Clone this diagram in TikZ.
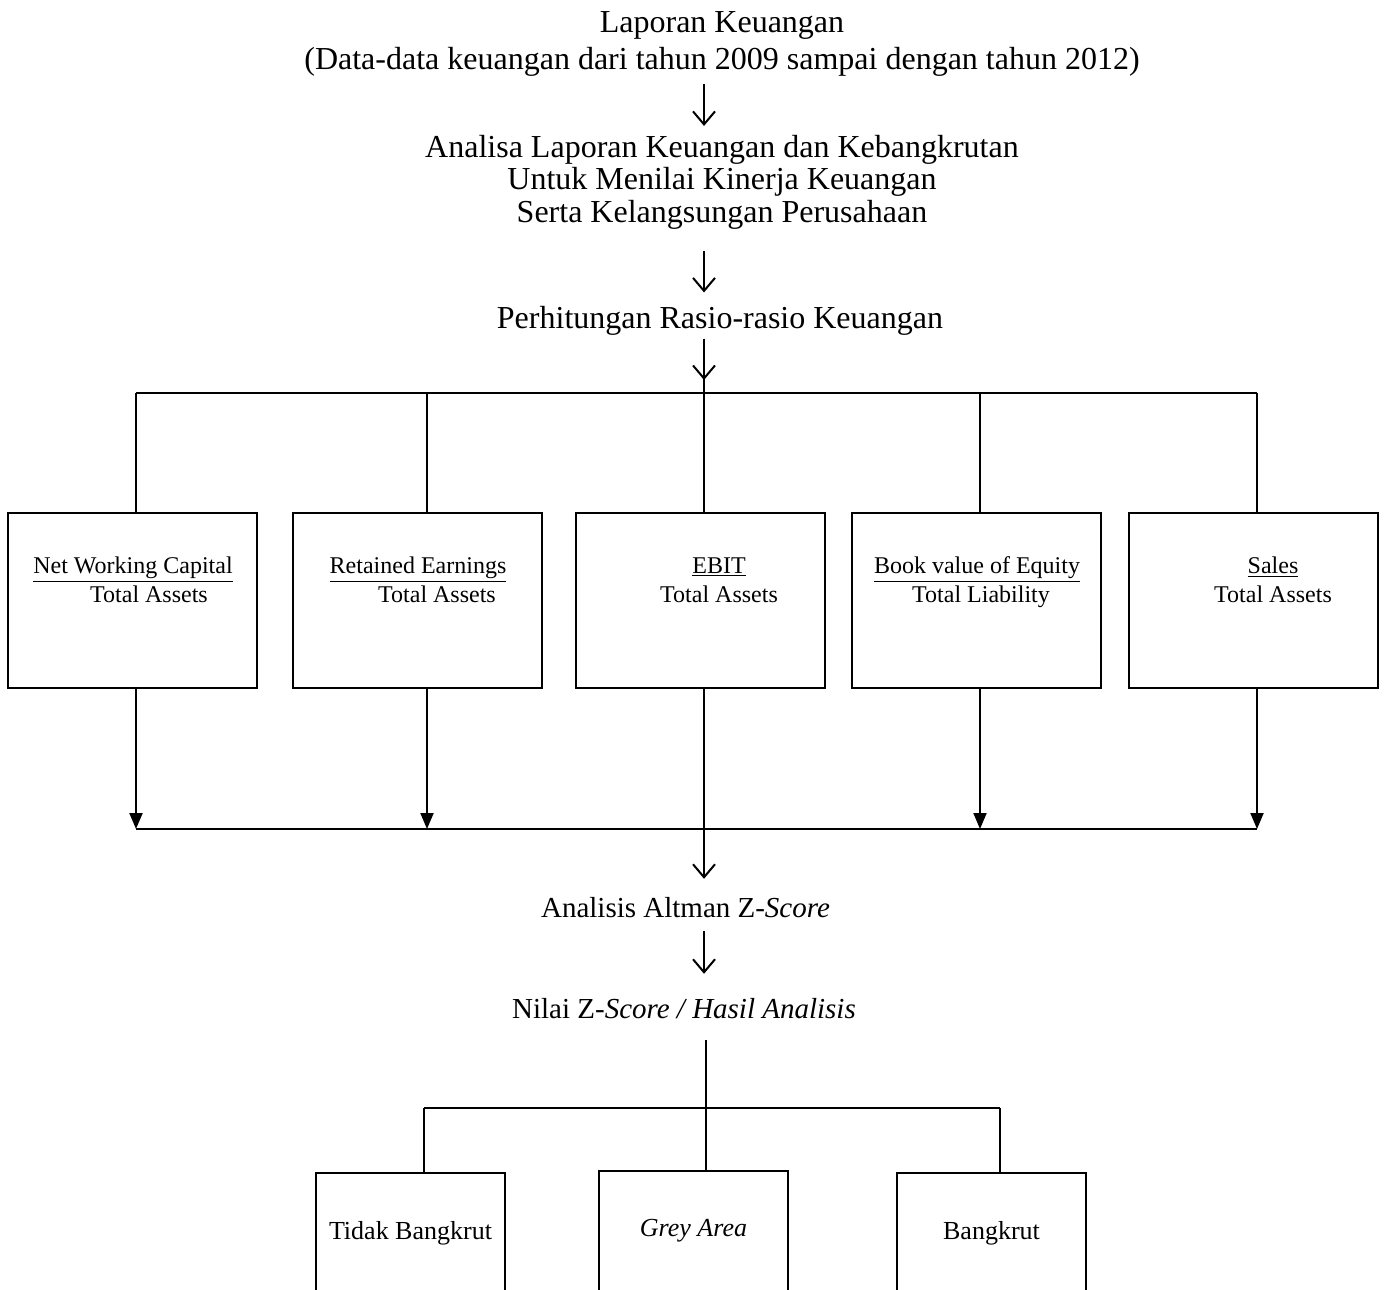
\documentclass[tikz,border=0pt]{standalone}
\usepackage{fontspec}
\setmainfont{Liberation Serif}
\usetikzlibrary{arrows.meta}
\usetikzlibrary{calc}

\begin{document}
\begin{tikzpicture}[x=0.5pt,y=-0.5pt,line width=1pt,
    judul/.style={font=\fontsize{16}{16.25}\selectfont,align=center,inner sep=0pt},
    teks/.style={font=\fontsize{14.5}{17}\selectfont,inner sep=0pt},
    rasio/.style={font=\fontsize{12}{14}\selectfont,inner sep=0pt,text height=9pt,text depth=3pt},
    kotak/.style={draw,minimum width=124.5pt,minimum height=87.5pt,inner sep=0pt},
    hasil/.style={draw,font=\fontsize{13}{15}\selectfont,minimum width=94.5pt,minimum height=60pt,inner sep=0pt},
    panah/.style={-{Straight Barb[length=6.5pt,width=11pt]}},
    segi/.style={-{Triangle[length=8pt,width=6.5pt]}}]
    \useasboundingbox (0,0) rectangle (1384,1289);
    \clip (0,0) rectangle (1384,1289);

    % titik cabang
    \foreach \i/\x in {1/136,2/427,3/704,4/980,5/1257}{
        \coordinate (v\i) at (\x,393);
        \coordinate (w\i) at (\x,829);
    }
    \coordinate (kiri) at (424,1108);
    \coordinate (tengah) at (706,1108);
    \coordinate (kanan) at (1000,1108);

    % teks alur
    \node[judul] (lap) at (722,44) {Laporan Keuangan\\[2.5pt](Data-data keuangan dari tahun 2009 sampai dengan tahun 2012)};
    \node[judul] (ana) at (722,182) {Analisa Laporan Keuangan dan Kebangkrutan\\Untuk Menilai Kinerja Keuangan\\Serta Kelangsungan Perusahaan};
    \node[judul] (hit) at (720,321) {Perhitungan Rasio-rasio Keuangan};
    \node[teks] (alt) at (685.5,908) {Analisis Altman Z-\textit{Score}};
    \node[teks] (nilai) at (684,1009) {Nilai Z-\textit{Score / Hasil Analisis}};

    % kotak rasio
    \node[kotak] (k1) at (132.5,600.5) {};
    \node[kotak] (k2) at (417.5,600.5) {};
    \node[kotak] (k3) at (700.5,600.5) {};
    \node[kotak] (k4) at (976.5,600.5) {};
    \node[kotak] (k5) at (1253.5,600.5) {};
    \foreach \k/\a/\da/\b/\db in {k1/Net Working Capital/0.5/Total Assets/16.5,
        k2/Retained Earnings/0.5/Total Assets/19.5,
        k3/EBIT/18.5/Total Assets/18.5,
        k4/Book value of Equity/0.5/Total Liability/4.5,
        k5/Sales/19.5/Total Assets/19.5}{
        \node[rasio] (\k a) at ($(\k.north)+(\da,55)$) {\underline{\a}};
        \node[rasio] (\k b) at ($(\k.north)+(\db,84)$) {\b};
    }

    % kotak hasil
    \node[hasil] (tb) at (410.5,1233) {Tidak Bangkrut};
    \node[hasil] (ga) at (693.5,1231) {\textit{Grey Area}};
    \node[hasil] (bk) at (991.5,1233) {Bangkrut};

    % panah
    \draw[panah] ($(lap.south -| v3)+(0,6)$) -- ($(ana.north -| v3)+(0,-8)$);
    \draw[panah] ($(ana.south -| v3)+(0,21)$) -- ($(hit.north -| v3)+(0,-13)$);
    \draw ($(hit.south -| v3)+(0,2)$) -- (v3 |- k3.north);
    \draw[panah] ($(hit.south -| v3)+(0,2)$) -- ($(v3)+(0,-13)$);
    \draw (v1) -- (v5);
    \foreach \i in {1,2,4,5}{
        \draw (v\i) -- (v\i |- k\i.north);
        \draw[segi] (w\i |- k\i.south) -- (w\i);
    }
    \draw (w1) -- (w5);
    \draw[panah] (w3 |- k3.south) -- ($(alt.north -| w3)+(0,-18)$);
    \draw[panah] ($(alt.south -| w3)+(0,12)$) -- ($(nilai.north -| w3)+(0,-24)$);
    \draw ($(nilai.south -| tengah)+(0,20)$) -- (tengah |- ga.north);
    \draw (kiri) -- (kanan);
    \draw (kiri) -- (kiri |- tb.north);
    \draw (kanan) -- (kanan |- bk.north);
\end{tikzpicture}
\end{document}
